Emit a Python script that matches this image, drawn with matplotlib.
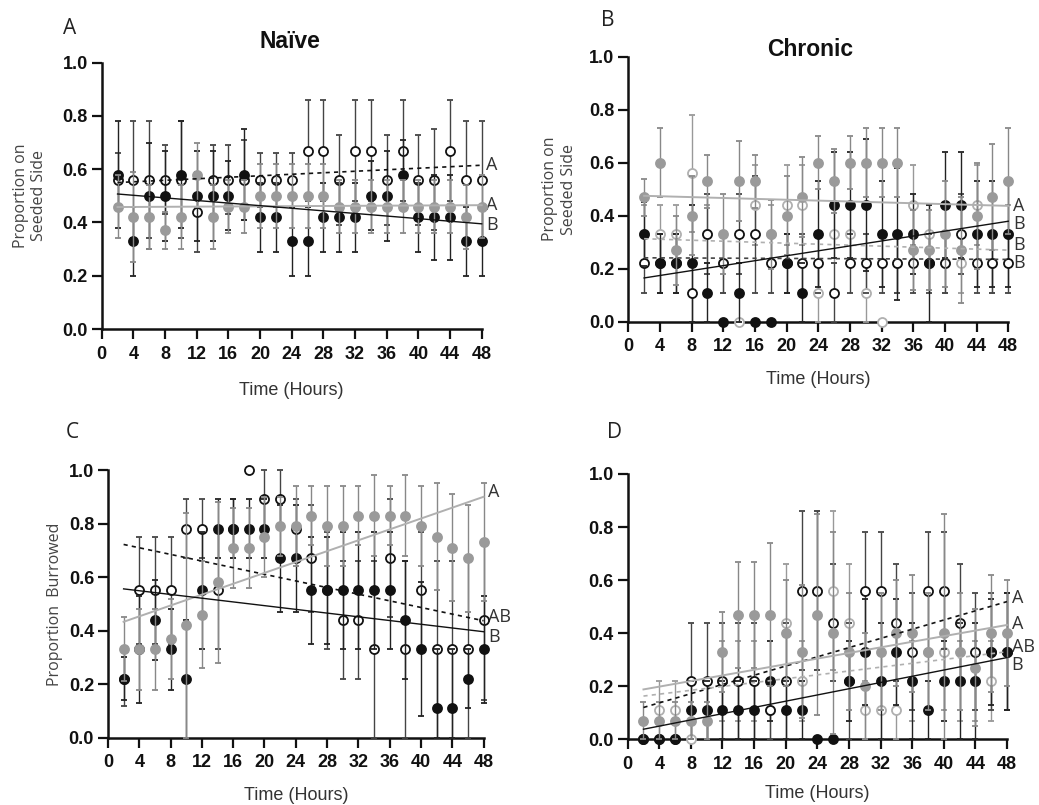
import numpy as np
import matplotlib
matplotlib.use("Agg")
import matplotlib.pyplot as plt

hours = [2, 4, 6, 8, 10, 12, 14, 16, 18, 20, 22, 24, 26, 28, 30, 32, 34, 36, 38, 40, 42, 44, 46, 48]
x_ticks = [0, 4, 8, 12, 16, 20, 24, 28, 32, 36, 40, 44, 48]
y_ticks = [0.0, 0.2, 0.4, 0.6, 0.8, 1.0]

# ---------- Panel A (Naive, seeded side) ----------
a_black = [0.58, 0.33, 0.50, 0.50, 0.58, 0.50, 0.50, 0.50, 0.58, 0.42, 0.42, 0.33,
           0.33, 0.42, 0.42, 0.42, 0.50, 0.50, 0.58, 0.42, 0.42, 0.42, 0.33, 0.33]
a_black_err = [0.20, 0.13, 0.20, 0.17, 0.20, 0.17, 0.17, 0.13, 0.17, 0.13, 0.13, 0.13,
               0.13, 0.13, 0.13, 0.13, 0.13, 0.17, 0.13, 0.13, 0.16, 0.16, 0.13, 0.13]
a_gray = [0.46, 0.42, 0.42, 0.37, 0.42, 0.58, 0.42, 0.46, 0.46, 0.50, 0.50, 0.50,
          0.50, 0.50, 0.46, 0.46, 0.46, 0.46, 0.46, 0.46, 0.46, 0.46, 0.42, 0.46]
a_gray_err = [0.12, 0.17, 0.12, 0.07, 0.12, 0.12, 0.12, 0.10, 0.10, 0.12, 0.12, 0.12,
              0.12, 0.12, 0.10, 0.10, 0.10, 0.10, 0.10, 0.10, 0.10, 0.10, 0.12, 0.12]
a_open = [0.56, 0.56, 0.56, 0.56, 0.56, 0.44, 0.56, 0.56, 0.56, 0.56, 0.56, 0.56,
          0.67, 0.67, 0.56, 0.67, 0.67, 0.56, 0.67, 0.56, 0.56, 0.67, 0.56, 0.56]
a_open_err = [0.10, 0.22, 0.22, 0.13, 0.22, 0.15, 0.13, 0.13, 0.15, 0.10, 0.10, 0.10,
              0.19, 0.19, 0.17, 0.19, 0.19, 0.17, 0.19, 0.17, 0.19, 0.19, 0.22, 0.22]
a_fit_black = [0.507, 0.395]
a_fit_gray = [0.458, 0.465]
a_fit_open = [0.550, 0.615]
a_letters = ["A", "A", "B"]
a_letter_y = [0.615, 0.465, 0.39]

# ---------- Panel B (Chronic, seeded side) ----------
b_black = [0.33, 0.22, 0.22, 0.22, 0.11, 0.00, 0.11, 0.00, 0.00, 0.22, 0.11, 0.33,
           0.44, 0.44, 0.44, 0.33, 0.33, 0.33, 0.22, 0.44, 0.44, 0.33, 0.33, 0.33]
b_black_err = [0.12, 0.11, 0.11, 0.22, 0.11, 0.00, 0.11, 0.00, 0.00, 0.11, 0.11, 0.20,
               0.20, 0.20, 0.25, 0.20, 0.25, 0.15, 0.22, 0.20, 0.20, 0.20, 0.20, 0.20]
b_gray = [0.47, 0.60, 0.27, 0.40, 0.53, 0.33, 0.53, 0.53, 0.33, 0.40, 0.47, 0.60,
          0.53, 0.60, 0.60, 0.60, 0.60, 0.27, 0.27, 0.33, 0.27, 0.40, 0.47, 0.53]
b_gray_err = [0.07, 0.13, 0.13, 0.15, 0.10, 0.15, 0.15, 0.10, 0.13, 0.15, 0.15, 0.10,
              0.12, 0.10, 0.13, 0.13, 0.13, 0.15, 0.15, 0.20, 0.20, 0.20, 0.20, 0.20]
b_open = [0.22, 0.22, 0.22, 0.11, 0.33, 0.22, 0.33, 0.33, 0.22, 0.22, 0.22, 0.22,
          0.11, 0.22, 0.22, 0.22, 0.22, 0.22, 0.22, 0.22, 0.33, 0.22, 0.22, 0.22]
b_open_err = [0.11, 0.11, 0.11, 0.11, 0.15, 0.11, 0.15, 0.22, 0.11, 0.11, 0.11, 0.11,
              0.11, 0.11, 0.11, 0.11, 0.11, 0.11, 0.11, 0.11, 0.15, 0.11, 0.11, 0.11]
b_opengray = [0.33, 0.33, 0.33, 0.56, 0.33, 0.22, 0.00, 0.44, 0.33, 0.44, 0.44, 0.11,
              0.33, 0.33, 0.11, 0.00, 0.22, 0.44, 0.33, 0.22, 0.22, 0.44, 0.22, 0.33]
b_opengray_err = [0.11, 0.11, 0.11, 0.22, 0.11, 0.11, 0.00, 0.15, 0.11, 0.15, 0.15, 0.11,
                  0.11, 0.11, 0.11, 0.00, 0.11, 0.15, 0.11, 0.11, 0.11, 0.15, 0.11, 0.11]
b_fit_black = [0.165, 0.379]
b_fit_gray = [0.475, 0.437]
b_fit_open = [0.241, 0.235]
b_fit_opengray = [0.313, 0.270]
b_letters = ["A", "B", "B", "B"]
b_letter_y = [0.437, 0.369, 0.29, 0.223]

# ---------- Panel C (Naive, burrowed) ----------
c_black = [0.22, 0.33, 0.44, 0.33, 0.22, 0.55, 0.78, 0.78, 0.78, 0.78, 0.67, 0.67,
           0.55, 0.55, 0.55, 0.55, 0.55, 0.55, 0.44, 0.33, 0.11, 0.11, 0.22, 0.33]
c_black_err = [0.08, 0.20, 0.15, 0.15, 0.22, 0.22, 0.11, 0.11, 0.11, 0.11, 0.20, 0.20,
               0.20, 0.20, 0.22, 0.22, 0.22, 0.22, 0.22, 0.25, 0.22, 0.22, 0.11, 0.20]
c_gray = [0.33, 0.33, 0.33, 0.37, 0.42, 0.46, 0.58, 0.71, 0.71, 0.75, 0.79, 0.79,
          0.83, 0.79, 0.79, 0.83, 0.83, 0.83, 0.83, 0.79, 0.75, 0.71, 0.67, 0.73]
c_gray_err = [0.12, 0.15, 0.15, 0.15, 0.42, 0.20, 0.30, 0.15, 0.15, 0.15, 0.11, 0.15,
              0.11, 0.15, 0.15, 0.11, 0.15, 0.11, 0.15, 0.15, 0.20, 0.20, 0.20, 0.22]
c_open = [0.22, 0.55, 0.55, 0.55, 0.78, 0.78, 0.55, 0.78, 1.00, 0.89, 0.89, 0.78,
          0.67, 0.55, 0.44, 0.44, 0.33, 0.67, 0.33, 0.55, 0.33, 0.33, 0.33, 0.44]
c_open_err = [0.10, 0.20, 0.20, 0.20, 0.11, 0.11, 0.22, 0.11, 0.00, 0.11, 0.11, 0.11,
              0.20, 0.22, 0.22, 0.22, 0.33, 0.22, 0.33, 0.22, 0.33, 0.33, 0.33, 0.30]
c_fit_black = [0.556, 0.396]
c_fit_gray = [0.433, 0.900]
c_fit_open = [0.722, 0.437]
c_letters = ["A", "AB", "B"]
c_letter_y = [0.917, 0.45, 0.375]

# ---------- Panel D (Chronic, burrowed) ----------
d_black = [0.00, 0.00, 0.00, 0.11, 0.11, 0.11, 0.11, 0.11, 0.22, 0.11, 0.11, 0.00,
           0.00, 0.22, 0.33, 0.22, 0.33, 0.22, 0.11, 0.22, 0.22, 0.22, 0.33, 0.33]
d_black_err = [0.00, 0.00, 0.00, 0.11, 0.11, 0.11, 0.11, 0.11, 0.15, 0.11, 0.11, 0.00,
               0.00, 0.15, 0.20, 0.22, 0.20, 0.22, 0.11, 0.15, 0.22, 0.22, 0.20, 0.22]
d_gray = [0.07, 0.07, 0.07, 0.07, 0.07, 0.33, 0.47, 0.47, 0.47, 0.40, 0.33, 0.47,
          0.40, 0.33, 0.20, 0.33, 0.40, 0.40, 0.33, 0.40, 0.33, 0.27, 0.40, 0.40]
d_gray_err = [0.07, 0.07, 0.07, 0.07, 0.07, 0.15, 0.20, 0.20, 0.27, 0.20, 0.25, 0.38,
              0.38, 0.22, 0.20, 0.22, 0.20, 0.22, 0.22, 0.45, 0.22, 0.22, 0.22, 0.20]
d_open = [0.00, 0.00, 0.00, 0.22, 0.22, 0.22, 0.22, 0.22, 0.11, 0.22, 0.56, 0.56,
          0.44, 0.22, 0.56, 0.56, 0.44, 0.33, 0.56, 0.56, 0.44, 0.33, 0.33, 0.33]
d_open_err = [0.00, 0.00, 0.00, 0.22, 0.22, 0.22, 0.22, 0.22, 0.11, 0.22, 0.30, 0.30,
              0.22, 0.22, 0.22, 0.22, 0.22, 0.22, 0.22, 0.22, 0.22, 0.22, 0.22, 0.22]
d_opengray = [0.00, 0.11, 0.11, 0.00, 0.11, 0.22, 0.22, 0.22, 0.11, 0.44, 0.22, 0.56,
              0.56, 0.44, 0.11, 0.11, 0.11, 0.22, 0.33, 0.33, 0.22, 0.22, 0.22, 0.33]
d_opengray_err = [0.00, 0.11, 0.11, 0.00, 0.11, 0.15, 0.15, 0.15, 0.11, 0.22, 0.15, 0.30,
                  0.30, 0.22, 0.11, 0.11, 0.11, 0.15, 0.22, 0.22, 0.15, 0.15, 0.15, 0.22]
d_fit_black = [0.038, 0.308]
d_fit_gray = [0.188, 0.431]
d_fit_open = [0.120, 0.519]
d_fit_opengray = [0.163, 0.330]
d_letters = ["A", "A", "AB", "B"]
d_letter_y = [0.531, 0.433, 0.349, 0.28]

BLACK = "#111111"
GRAY = "#9a9a9a"
LGRAY = "#b0b0b0"
TEXT = "#333333"
TICKFONT = "Liberation Sans"

fig = plt.figure(figsize=(10.39, 8.05), dpi=100)


def draw_series(ax, y, err, face, edge, ecolor, z):
    y = np.array(y)
    e = np.array(err)
    lower = np.minimum(e, y)
    upper = np.minimum(e, 1.0 - y)
    cont = ax.errorbar(hours, y, yerr=[lower, upper], fmt="o", ms=6.5,
                       mfc=face, mec=edge, mew=1.3, ecolor=ecolor, elinewidth=1.0,
                       capsize=2.5, capthick=1.0, zorder=z)
    for art in cont.lines[1] + cont.lines[2]:
        art.set_clip_on(False)
    cont.lines[0].set_clip_on(False)
    for art in cont.lines[2]:
        art.set_zorder(z - 0.5)


def draw_fit(ax, ends, color, ls, lw, z):
    ax.plot([hours[0], hours[-1]], ends, color=color, ls=ls, lw=lw, zorder=z,
            clip_on=False)


def style_axes(ax, xlabelpad):
    ax.set_xlim(0, 48)
    ax.set_ylim(0, 1.0)
    ax.set_xticks(x_ticks)
    ax.set_yticks(y_ticks)
    ax.set_yticklabels([f"{v:.1f}" for v in y_ticks])
    for s in ["top", "right"]:
        ax.spines[s].set_visible(False)
    for s in ["left", "bottom"]:
        ax.spines[s].set_linewidth(1.8)
        ax.spines[s].set_color("#111111")
    ax.tick_params(direction="out", length=7, width=1.6, colors="#111111", pad=3)
    ax.tick_params(axis="x", pad=5)
    for lab in ax.get_xticklabels() + ax.get_yticklabels():
        lab.set_fontfamily(TICKFONT)
        lab.set_fontweight("bold")
        lab.set_fontsize(13)
    ax.set_xlabel("Time (Hours)", fontfamily=TICKFONT, fontsize=13, color=TEXT,
                  labelpad=xlabelpad)


def letters(ax, labs, ys):
    for lab, yy in zip(labs, ys):
        ax.text(48.6, yy, lab, fontsize=13, color=TEXT, va="center", ha="left",
                fontfamily="Open Sans", clip_on=False)


# Panel A
axA = fig.add_axes([0.0979, 0.5913, 0.3657, 0.3308])
draw_series(axA, a_open, a_open_err, "white", BLACK, "#444444", 3)
draw_series(axA, a_black, a_black_err, BLACK, BLACK, "#222222", 4)
draw_series(axA, a_gray, a_gray_err, GRAY, GRAY, "#888888", 5)
draw_fit(axA, a_fit_open, BLACK, (0, (2.5, 2.5)), 1.2, 6)
draw_fit(axA, a_fit_gray, LGRAY, "-", 1.4, 6)
draw_fit(axA, a_fit_black, BLACK, "-", 1.0, 6)
style_axes(axA, 14)
axA.set_ylabel("Proportion on\nSeeded Side", fontfamily="Open Sans", fontsize=11.5,
               color="#444444", labelpad=11)
letters(axA, a_letters, a_letter_y)

# Panel B
axB = fig.add_axes([0.6047, 0.6004, 0.3657, 0.3292])
draw_series(axB, b_opengray, b_opengray_err, "white", LGRAY, "#999999", 3)
draw_series(axB, b_open, b_open_err, "white", BLACK, "#444444", 3.5)
draw_series(axB, b_black, b_black_err, BLACK, BLACK, "#222222", 4)
draw_series(axB, b_gray, b_gray_err, GRAY, GRAY, "#888888", 5)
draw_fit(axB, b_fit_opengray, LGRAY, (0, (2.5, 2.5)), 1.2, 6)
draw_fit(axB, b_fit_open, "#444444", (0, (2.5, 2.5)), 1.2, 6)
draw_fit(axB, b_fit_gray, LGRAY, "-", 1.4, 6)
draw_fit(axB, b_fit_black, BLACK, "-", 1.0, 6)
style_axes(axB, 11)
axB.set_ylabel("Proportion on\nSeeded Side", fontfamily="Open Sans", fontsize=11.5,
               color="#444444", labelpad=9)
letters(axB, b_letters, b_letter_y)

# Panel C
axC = fig.add_axes([0.1039, 0.0836, 0.3615, 0.3325])
draw_series(axC, c_open, c_open_err, "white", BLACK, "#444444", 3)
draw_series(axC, c_black, c_black_err, BLACK, BLACK, "#222222", 4)
draw_series(axC, c_gray, c_gray_err, GRAY, GRAY, "#888888", 5)
draw_fit(axC, c_fit_open, BLACK, (0, (2.5, 2.5)), 1.2, 6)
draw_fit(axC, c_fit_gray, LGRAY, "-", 1.4, 6)
draw_fit(axC, c_fit_black, BLACK, "-", 1.0, 6)
style_axes(axC, 11)
axC.set_ylabel("Proportion  Burrowed", fontfamily="Open Sans", fontsize=11.5,
               color="#444444", labelpad=4)
letters(axC, c_letters, c_letter_y)

# Panel D
axD = fig.add_axes([0.6041, 0.0816, 0.3651, 0.3296])
draw_series(axD, d_opengray, d_opengray_err, "white", LGRAY, "#999999", 3)
draw_series(axD, d_open, d_open_err, "white", BLACK, "#444444", 3.5)
draw_series(axD, d_black, d_black_err, BLACK, BLACK, "#222222", 4)
draw_series(axD, d_gray, d_gray_err, GRAY, GRAY, "#888888", 5)
draw_fit(axD, d_fit_open, BLACK, (0, (2.5, 2.5)), 1.2, 6)
draw_fit(axD, d_fit_opengray, LGRAY, (0, (2.5, 2.5)), 1.2, 6)
draw_fit(axD, d_fit_gray, LGRAY, "-", 1.4, 6)
draw_fit(axD, d_fit_black, BLACK, "-", 1.0, 6)
style_axes(axD, 9)
letters(axD, d_letters, d_letter_y)

# Titles and panel letters
fig.text(290 / 1039, 1 - 42 / 805, "Naïve", fontfamily=TICKFONT, fontweight="bold",
         fontsize=16.5, ha="center", va="center", color="#111111")
fig.text(810 / 1039, 1 - 50 / 805, "Chronic", fontfamily=TICKFONT, fontweight="bold",
         fontsize=16.5, ha="center", va="center", color="#111111")
for lab, (px, py) in zip(["A", "B", "C", "D"], [(70, 28), (608, 20), (72, 432), (614, 432)]):
    fig.text(px / 1039, 1 - py / 805, lab, fontfamily="Open Sans", fontsize=15,
             ha="center", va="center", color="#222222")

fig.savefig("out.png", dpi=100, facecolor="white")
